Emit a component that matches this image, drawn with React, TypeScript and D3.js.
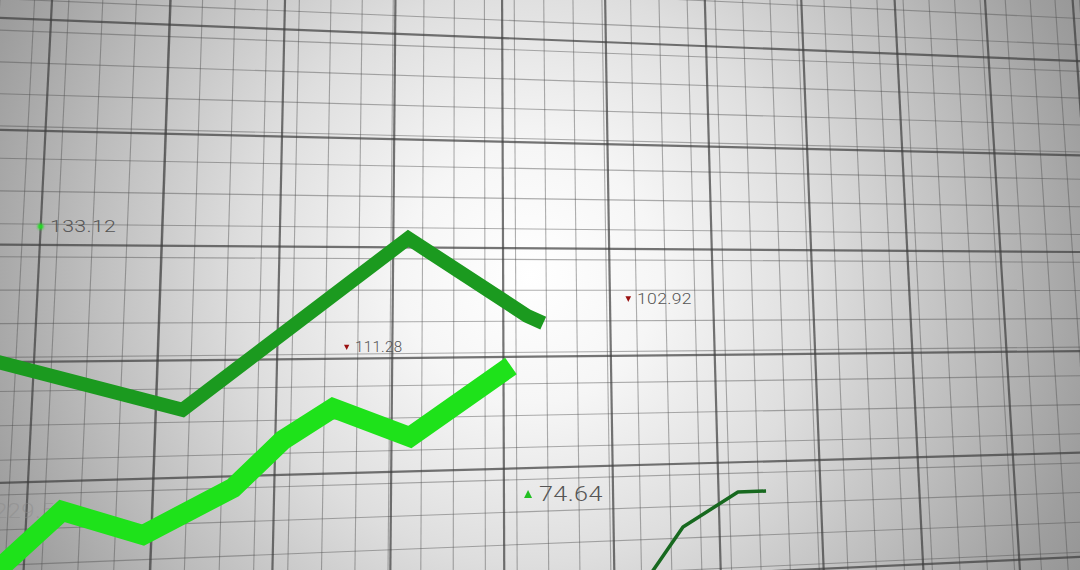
import React from 'react';
import * as d3 from 'd3';

const W = 1080;
const H = 570;

// Perspective plane: corners of the major grid block u∈[0,10], v∈[0,4]
const planeCorners: [number, number][] = [[51, 20], [1077, 61], [1105, 452], [28, 482]];
const U_SPAN = 10;
const V_SPAN = 4;

// Grid line positions in plane units
const majorU = d3.range(-2, 14);
const majorV = d3.range(-2, 7);
const minorStepU = 0.284;
const minorOffU = -0.144;
const minorStepV = 0.285;
const minorOffV = 0.11;

// Series (time 0..100 across, value 0..100 up)
const darkTime = [-1, 16.9, 37.8, 48.8, 50.3];
const darkValue = [36.9, 28.1, 58.2, 44.6, 43.3];

const brightTime = [-0.93, 5.74, 13.24, 21.57, 26.2, 30.83, 37.96, 47.31];
const brightValue = [-1.23, 10.35, 6.14, 14.39, 22.81, 28.42, 23.33, 35.79];

const thinTime = [60.37, 63.24, 68.33, 70.93];
const thinValue = [-0.35, 7.54, 13.68, 13.86];

// Price labels
const labelText = ['133.12', '111.28', '102.92', '74.64', '229.56'];
const labelTime = [4.63, 32.87, 58.98, 49.91, -0.56];
const labelValue = [59.3, 38.25, 46.67, 12.1, 9.12];
const labelSize = [17, 14, 15, 21, 20];
const labelStretch = [1.25, 1.08, 1.17, 1.2, 1.2];
const labelMark = ['dot', 'down', 'down', 'up', 'none'];

function makeHomography(c: [number, number][]) {
  const [[x0, y0], [x1, y1], [x2, y2], [x3, y3]] = c;
  const dx1 = x1 - x2, dx2 = x3 - x2, dy1 = y1 - y2, dy2 = y3 - y2;
  const sx = x0 - x1 + x2 - x3, sy = y0 - y1 + y2 - y3;
  const den = dx1 * dy2 - dx2 * dy1;
  const g = (sx * dy2 - dx2 * sy) / den;
  const h = (dx1 * sy - sx * dy1) / den;
  const a = x1 - x0 + g * x1, b = x3 - x0 + h * x3, cc = x0;
  const d = y1 - y0 + g * y1, e = y3 - y0 + h * y3, f = y0;
  return (u: number, v: number): [number, number] => {
    const s = u / U_SPAN, t = v / V_SPAN;
    const w = g * s + h * t + 1;
    return [(a * s + b * t + cc) / w, (d * s + e * t + f) / w];
  };
}

export default function App() {
  const project = makeHomography(planeCorners);
  const x = d3.scaleLinear().domain([0, 100]).range([0, W]);
  const y = d3.scaleLinear().domain([0, 100]).range([H, 0]);
  const line = d3.line<[number, number]>().x((d) => x(d[0])).y((d) => y(d[1])).curve(d3.curveLinear);
  const seg = d3.line<[number, number]>();

  const minorU = d3.range(-12, 50).map((k) => minorOffU + k * minorStepU);
  const minorV = d3.range(-12, 26).map((k) => minorOffV + k * minorStepV);

  const vLine = (u: number) => seg([project(u, -3), project(u, 8)]);
  const hLine = (v: number) => seg([project(-4, v), project(16, v)]);

  const darkPts = darkTime.map((t, i) => [t, darkValue[i]] as [number, number]);
  const brightPts = brightTime.map((t, i) => [t, brightValue[i]] as [number, number]);
  const thinPts = thinTime.map((t, i) => [t, thinValue[i]] as [number, number]);

  return (
    <svg width={W} height={H} style={{ position: 'absolute', left: 0, top: 0, display: 'block' }}>
      <defs>
        <radialGradient id="bg" gradientUnits="userSpaceOnUse" cx={530} cy={275} r={640}>
          <stop offset="0" stopColor="#ffffff" />
          <stop offset="0.2" stopColor="#f6f6f6" />
          <stop offset="0.45" stopColor="#dedede" />
          <stop offset="0.7" stopColor="#bcbcbc" />
          <stop offset="0.9" stopColor="#9e9e9e" />
          <stop offset="1" stopColor="#939393" />
        </radialGradient>
        <filter id="glow" x="-2" y="-2" width="5" height="5">
          <feGaussianBlur stdDeviation="1.2" />
        </filter>
      </defs>
      <rect x={0} y={0} width={W} height={H} fill="url(#bg)" />
      <g stroke="#505050" strokeOpacity={0.45} strokeWidth={1.1} fill="none">
        {minorU.map((u, i) => (
          <path key={'mu' + i} d={vLine(u) || ''} />
        ))}
        {minorV.map((v, i) => (
          <path key={'mv' + i} d={hLine(v) || ''} />
        ))}
      </g>
      <g stroke="#3c3c3c" strokeOpacity={0.7} strokeWidth={2.2} fill="none">
        {majorU.map((u) => (
          <path key={'Mu' + u} d={vLine(u) || ''} />
        ))}
        {majorV.map((v) => (
          <path key={'Mv' + v} d={hLine(v) || ''} />
        ))}
      </g>
      <g fontFamily="Roboto, 'DejaVu Sans', sans-serif" fontWeight={300}>
        {labelText.map((txt, i) => {
          const lx = x(labelTime[i]);
          const ly = y(labelValue[i]);
          const fs = labelSize[i];
          const m = labelMark[i];
          const tri = fs * 0.38;
          const cy = ly - fs * 0.33;
          const mx = lx - tri - 3;
          return (
            <g key={'lab' + i}>
              {m === 'dot' && <circle cx={mx} cy={cy} r={3} fill="#22dd22" filter="url(#glow)" />}
              {m === 'down' && (
                <path d={`M${mx - tri / 2},${cy - tri / 2}L${mx + tri / 2},${cy - tri / 2}L${mx},${cy + tri / 2}Z`} fill="#9a1010" />
              )}
              {m === 'up' && (
                <path d={`M${mx - tri / 2},${cy + tri / 2}L${mx + tri / 2},${cy + tri / 2}L${mx},${cy - tri / 2}Z`} fill="#22c022" />
              )}
              <text
                transform={`translate(${lx},${ly}) scale(${labelStretch[i]},1)`}
                fontSize={fs}
                fill={m === 'none' ? '#8a8a8a' : '#555555'}
                fillOpacity={m === 'none' ? 0.5 : 1}
                letterSpacing={0.3}
              >
                {txt}
              </text>
            </g>
          );
        })}
      </g>
      <path d={line(thinPts) || ''} fill="none" stroke="#17691f" strokeWidth={3.5} strokeLinejoin="round" />
      <path d={line(darkPts) || ''} fill="none" stroke="#1b9a1f" strokeWidth={14} strokeLinejoin="miter" />
      <path d={line(brightPts) || ''} fill="none" stroke="#1ee21a" strokeWidth={20} strokeLinejoin="miter" />
    </svg>
  );
}
